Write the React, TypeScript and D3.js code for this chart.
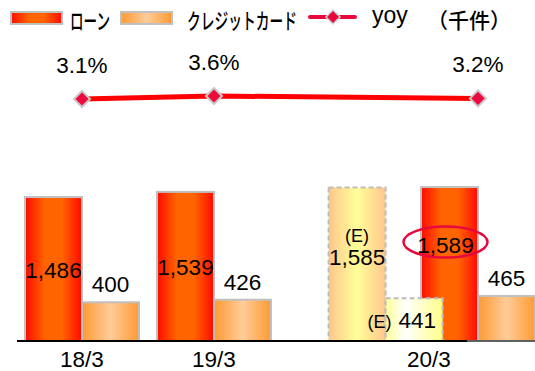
import React from "react";
import * as d3 from "d3";

const categories = ["18/3", "19/3", "20/3"];
const loanValues = [1486, 1539, 1589];
const creditValues = [400, 426, 465];
const estLoan = 1585;
const estCredit = 441;
const yoyValues = [3.1, 3.6, 3.2];
const yoyLabels = ["3.1%", "3.6%", "3.2%"];
const legendLabels = ["ローン", "クレジットカード", "yoy", "（千件）"];

const W = 535;
const H = 371;
const NUM_FONT = "'Liberation Sans', Arial, sans-serif";
const JP_FONT = "'Noto Sans CJK JP', sans-serif";

export default function App() {
  const baseY = 341;
  const bw = 57;
  // slot index for each group start (E group sits between slot 2 and 3)
  const slots = [0, 1, 3];
  const estSlot = 2.3;
  const xg = d3.scaleLinear().domain([0, 3]).range([25, 421]);
  const y = d3.scaleLinear().domain([0, 1600]).range([baseY, 186]);
  const yy = d3.scaleLinear().domain([3.0, 4.0]).range([99.6, 93.6]);

  const yoyPts: [number, number][] = yoyValues.map((v, i) => [xg(slots[i]) + bw, yy(v)]);
  const line = d3.line();

  const diamond = (cx: number, cy: number, r: number) =>
    `M${cx},${cy - r}L${cx + r},${cy}L${cx},${cy + r}L${cx - r},${cy}Z`;

  const estX = xg(estSlot);
  const actX = xg(3);

  return (
    <svg width={W} height={H} style={{ position: "absolute", left: 0, top: 0 }}>
      <defs>
        <linearGradient id="gLoan" x1="0" x2="1" y1="0" y2="0">
          <stop offset="0" stopColor="#ff0a00" />
          <stop offset="0.35" stopColor="#ff6400" />
          <stop offset="0.65" stopColor="#ff6400" />
          <stop offset="1" stopColor="#ff0a00" />
        </linearGradient>
        <linearGradient id="gCredit" x1="0" x2="1" y1="0" y2="0">
          <stop offset="0" stopColor="#ff9a33" />
          <stop offset="0.5" stopColor="#ffcc99" />
          <stop offset="1" stopColor="#ff9a33" />
        </linearGradient>
        <linearGradient id="gEstLoan" x1="0" x2="1" y1="0" y2="0">
          <stop offset="0" stopColor="#ffc68c" />
          <stop offset="0.5" stopColor="#ffff99" />
          <stop offset="1" stopColor="#ffc68c" />
        </linearGradient>
        <linearGradient id="gEstCredit" x1="0" x2="1" y1="0" y2="0">
          <stop offset="0" stopColor="#ffff99" />
          <stop offset="0.35" stopColor="#ffffff" />
          <stop offset="1" stopColor="#ffff88" />
        </linearGradient>
      </defs>

      {/* Legend */}
      <rect x={11} y={12} width={51} height={12} fill="url(#gLoan)" stroke="#c0c0c0" strokeWidth={2} />
      <text x={70} y={19} fontFamily={JP_FONT} fontSize={22} fontWeight={500} dominantBaseline="central" textLength={40} lengthAdjust="spacingAndGlyphs">{legendLabels[0]}</text>
      <rect x={121} y={12} width={51} height={12} fill="url(#gCredit)" stroke="#c0c0c0" strokeWidth={2} />
      <text x={187} y={19} fontFamily={JP_FONT} fontSize={22} fontWeight={500} dominantBaseline="central" textLength={110} lengthAdjust="spacingAndGlyphs">{legendLabels[1]}</text>
      <line x1={310} x2={355} y1={17} y2={17} stroke="#e8083c" strokeWidth={4} strokeLinecap="round" />
      <path d={diamond(333, 17, 7)} fill="#e8083c" stroke="#d0d0d0" strokeWidth={1.5} />
      <text x={372} y={23} fontFamily={NUM_FONT} fontSize={23}>{legendLabels[2]}</text>
      <text x={427} y={19} fontFamily={JP_FONT} fontSize={21} fontWeight={500} dominantBaseline="central">{legendLabels[3]}</text>

      {/* YoY line */}
      <path d={line(yoyPts) || ""} fill="none" stroke="#ff0000" strokeWidth={5} />
      {yoyPts.map(([px, py], i) => (
        <g key={"y" + i}>
          <path d={diamond(px, py, 8)} fill="#ee0a3c" stroke="#c8c8c8" strokeWidth={2} />
          <text x={px} y={py - 26} textAnchor="middle" fontFamily={NUM_FONT} fontSize={22.5}>{yoyLabels[i]}</text>
        </g>
      ))}

      {/* Estimated bars (20/3) */}
      <rect x={estX} y={y(estLoan)} width={bw} height={baseY - y(estLoan)} fill="url(#gEstLoan)" stroke="#bdbdbd" strokeWidth={2} strokeDasharray="5,3" />
      <text x={estX + bw / 2} y={(y(estLoan) + baseY) / 2 - 22} textAnchor="middle" fontFamily={NUM_FONT} fontSize={18}>(E)</text>
      <text x={estX + bw / 2} y={(y(estLoan) + baseY) / 2 + 1} textAnchor="middle" fontFamily={NUM_FONT} fontSize={22.5}>{d3.format(",")(estLoan)}</text>

      {/* Actual bars */}
      {categories.map((c, i) => {
        const x0 = xg(slots[i]);
        const yl = y(loanValues[i]);
        const yc = y(creditValues[i]);
        const isLast = i === categories.length - 1;
        return (
          <g key={c}>
            <rect x={x0} y={yl} width={bw} height={baseY - yl} fill="url(#gLoan)" stroke="#c0c0c0" strokeWidth={2} />
            <rect x={x0 + bw} y={yc} width={bw} height={baseY - yc} fill="url(#gCredit)" stroke="#c0c0c0" strokeWidth={2} />
            <text x={isLast ? x0 + bw / 2 - 4 : x0 + bw / 2} y={isLast ? yl + 66 : (yl + baseY) / 2 + 9} textAnchor="middle" fontFamily={NUM_FONT} fontSize={22.5}>{d3.format(",")(loanValues[i])}</text>
            <text x={x0 + bw * 1.5} y={yc - 10} textAnchor="middle" fontFamily={NUM_FONT} fontSize={22.5}>{d3.format(",")(creditValues[i])}</text>
          </g>
        );
      })}

      {/* Estimated credit bar overlaps actual loan bar */}
      <rect x={estX + bw} y={y(estCredit)} width={bw} height={baseY - y(estCredit)} fill="url(#gEstCredit)" stroke="#bdbdbd" strokeWidth={2} strokeDasharray="5,3" />
      <text x={estX + bw - 18} y={(y(estCredit) + baseY) / 2 + 8} fontFamily={NUM_FONT} fontSize={18}>(E)</text>
      <text x={estX + bw + 13} y={(y(estCredit) + baseY) / 2 + 8} fontFamily={NUM_FONT} fontSize={22.5}>{d3.format(",")(estCredit)}</text>

      {/* Highlight ellipse */}
      <ellipse cx={actX + bw / 2 - 4} cy={y(loanValues[2]) + 55} rx={42} ry={15.5} fill="none" stroke="#e8083c" strokeWidth={2.5} />

      {/* Axis */}
      <line x1={17} x2={467} y1={baseY} y2={baseY} stroke="#000" strokeWidth={2} />
      <line x1={467} x2={535} y1={baseY} y2={baseY} stroke="#000" strokeWidth={1} />

      {/* Category labels */}
      {categories.map((c, i) => {
        const cx = i < 2 ? xg(slots[i]) + bw : (estX + actX + 2 * bw) / 2 - 3;
        return (
          <text key={"c" + c} x={cx} y={367} textAnchor="middle" fontFamily={NUM_FONT} fontSize={22.5}>{c}</text>
        );
      })}
    </svg>
  );
}
